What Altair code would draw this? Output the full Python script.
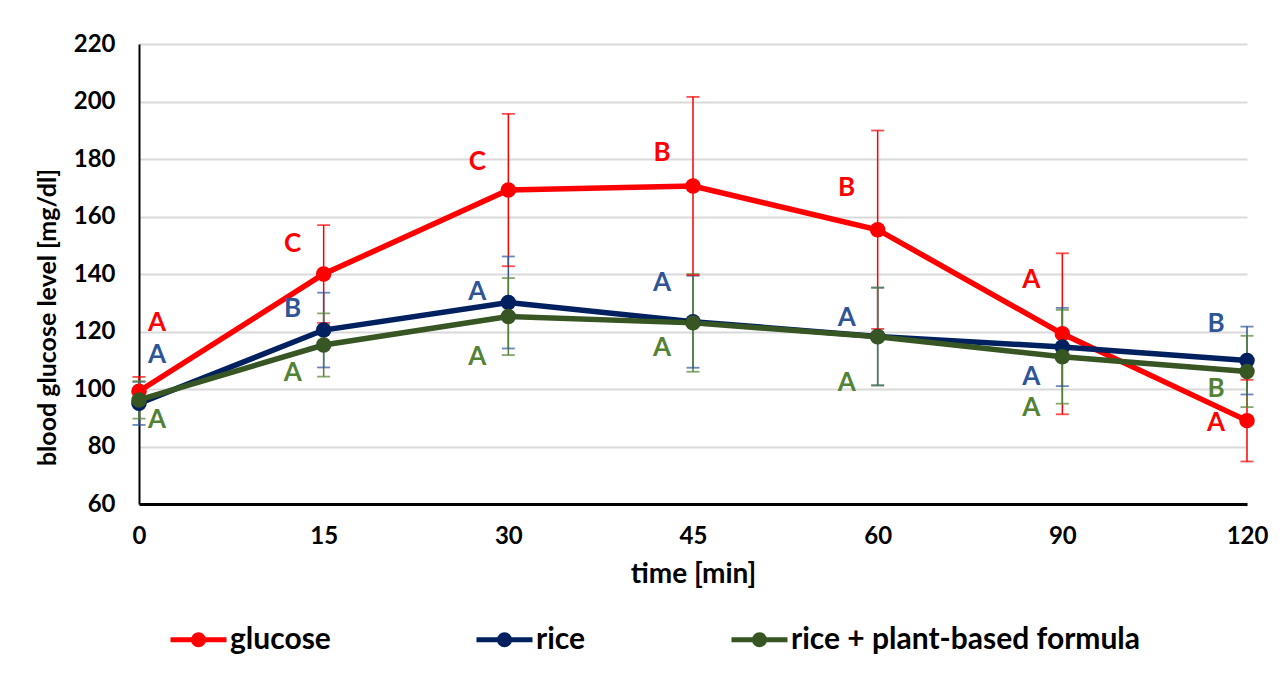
import altair as alt
import pandas as pd

times = ["0", "15", "30", "45", "60", "90", "120"]
series = ["glucose", "rice", "rice + plant-based formula"]

glucose_mean = [99.2, 140.0, 169.2, 170.6, 155.4, 119.2, 89.0]
glucose_err = [5.0, 17.0, 26.5, 31.0, 34.5, 28.0, 14.2]
rice_mean = [95.0, 120.5, 130.1, 123.4, 118.3, 114.6, 109.9]
rice_err = [7.5, 13.0, 16.0, 16.0, 17.0, 13.6, 11.8]
formula_mean = [96.2, 115.3, 125.2, 123.0, 118.2, 111.2, 106.1]
formula_err = [6.5, 11.0, 13.4, 17.0, 17.0, 16.3, 12.4]

glucose_letters = ["A", "C", "C", "B", "B", "A", "A"]
rice_letters = ["A", "B", "A", "A", "A", "A", "B"]
formula_letters = ["A", "A", "A", "A", "A", "A", "B"]

glucose_letter_y = [123.0, 150.4, 179.0, 182.0, 170.0, 138.0, 88.2]
rice_letter_y = [111.8, 127.8, 133.7, 136.9, 124.7, 104.2, 122.6]
formula_letter_y = [89.2, 105.6, 111.1, 114.3, 102.1, 93.4, 100.0]

line_colors = ["#FF0000", "#002060", "#375623"]
err_colors = ["#FF0000", "#2F5597", "#548235"]
letter_colors = ["#FF0000", "#2F5597", "#548235"]

means = [glucose_mean, rice_mean, formula_mean]
errs = [glucose_err, rice_err, formula_err]
letters = [glucose_letters, rice_letters, formula_letters]
letter_ys = [glucose_letter_y, rice_letter_y, formula_letter_y]

rows = []
for si, s in enumerate(series):
    for ti, t in enumerate(times):
        m = means[si][ti]
        e = errs[si][ti]
        rows.append({
            "series": s, "order": si, "time": t,
            "mean": m, "low": m - e, "high": m + e,
            "letter": letters[si][ti], "ly": letter_ys[si][ti],
            "ecol": err_colors[si], "lcol": letter_colors[si],
        })
df = pd.DataFrame(rows)

FONT = "Lato"

x_enc = alt.X("time:N", sort=times, scale=alt.Scale(type="point", padding=0),
              axis=alt.Axis(title="time [min]", labelAngle=0, labelFontSize=24,
                            labelFont=FONT, labelFontWeight="bold", labelColor="#000",
                            labelPadding=20, ticks=False, domainColor="#000",
                            domainWidth=3, titleFont=FONT, titleFontSize=28,
                            titleFontWeight="bold", titleColor="#000", titlePadding=12,
                            grid=False))
y_scale = alt.Scale(domain=[60, 220], nice=False, zero=False)
y_axis = alt.Axis(title="blood glucose level [mg/dl]", values=list(range(60, 221, 20)),
                  labelFontSize=24, labelFont=FONT, labelFontWeight="bold",
                  labelColor="#000", labelPadding=24, ticks=False, domainColor="#000",
                  domainWidth=2, gridColor="#d9d9d9", gridWidth=2,
                  titleFont=FONT, titleFontSize=25, titleFontWeight="bold",
                  titleColor="#000", titleX=-92, titleY=273, titleAlign="center",
                  titleBaseline="middle", titleAngle=270)

base = alt.Chart(df)

color_enc = alt.Color("series:N", sort=series,
                      scale=alt.Scale(domain=series, range=line_colors),
                      legend=alt.Legend(
                          title=None, orient="none", direction="horizontal",
                          legendX=29, legendY=565,
                          symbolType="M-1,0H1M-0.18,0A0.18,0.18,0,1,0,0.18,0A0.18,0.18,0,1,0,-0.18,0Z",
                          symbolSize=3136, symbolStrokeWidth=5,
                          labelFont=FONT, labelFontSize=30, labelFontWeight="bold",
                          labelColor="#000", labelOffset=1, columnPadding=135,
                          labelLimit=0, symbolOpacity=1))

grid_layer = base.mark_point(opacity=0).encode(
    x=x_enc, y=alt.Y("mean:Q", scale=y_scale, axis=y_axis))

err_rule = base.mark_rule(strokeWidth=1.5).encode(
    x=alt.X("time:N", sort=times),
    y=alt.Y("low:Q"), y2="high:Q",
    stroke=alt.Stroke("ecol:N", scale=None, legend=None),
    order=alt.Order("order:Q"))

cap_hi = base.mark_tick(size=13, thickness=1.8).encode(
    x=alt.X("time:N", sort=times), y=alt.Y("high:Q"),
    fill=alt.Fill("ecol:N", scale=None, legend=None),
    color=alt.value(None))
cap_lo = base.mark_tick(size=13, thickness=1.8).encode(
    x=alt.X("time:N", sort=times), y=alt.Y("low:Q"),
    fill=alt.Fill("ecol:N", scale=None, legend=None),
    color=alt.value(None))

lines = base.mark_line(strokeWidth=5.5).encode(
    x=alt.X("time:N", sort=times), y=alt.Y("mean:Q"), color=color_enc)
points = base.mark_point(filled=True, size=240, opacity=1).encode(
    x=alt.X("time:N", sort=times), y=alt.Y("mean:Q"), color=color_enc)

text_first = base.transform_filter(alt.datum.time == "0").mark_text(
    font=FONT, fontSize=26, fontWeight="bold", dx=18, align="center",
    baseline="middle").encode(
    x=alt.X("time:N", sort=times), y=alt.Y("ly:Q"), text="letter:N",
    fill=alt.Fill("lcol:N", scale=None, legend=None))
text_rest = base.transform_filter(alt.datum.time != "0").mark_text(
    font=FONT, fontSize=26, fontWeight="bold", dx=-31, align="center",
    baseline="middle").encode(
    x=alt.X("time:N", sort=times), y=alt.Y("ly:Q"), text="letter:N",
    fill=alt.Fill("lcol:N", scale=None, legend=None))

chart = alt.layer(grid_layer, err_rule, cap_hi, cap_lo, lines, points,
                  text_first, text_rest).properties(
    width=1108, height=460,
    autosize=alt.AutoSizeParams(type="none"),
    padding={"left": 139, "top": 44, "right": 38, "bottom": 178},
    background="white",
).configure_view(stroke=None)

chart.save("out.html", embed_options={"renderer": "svg", "actions": False})
